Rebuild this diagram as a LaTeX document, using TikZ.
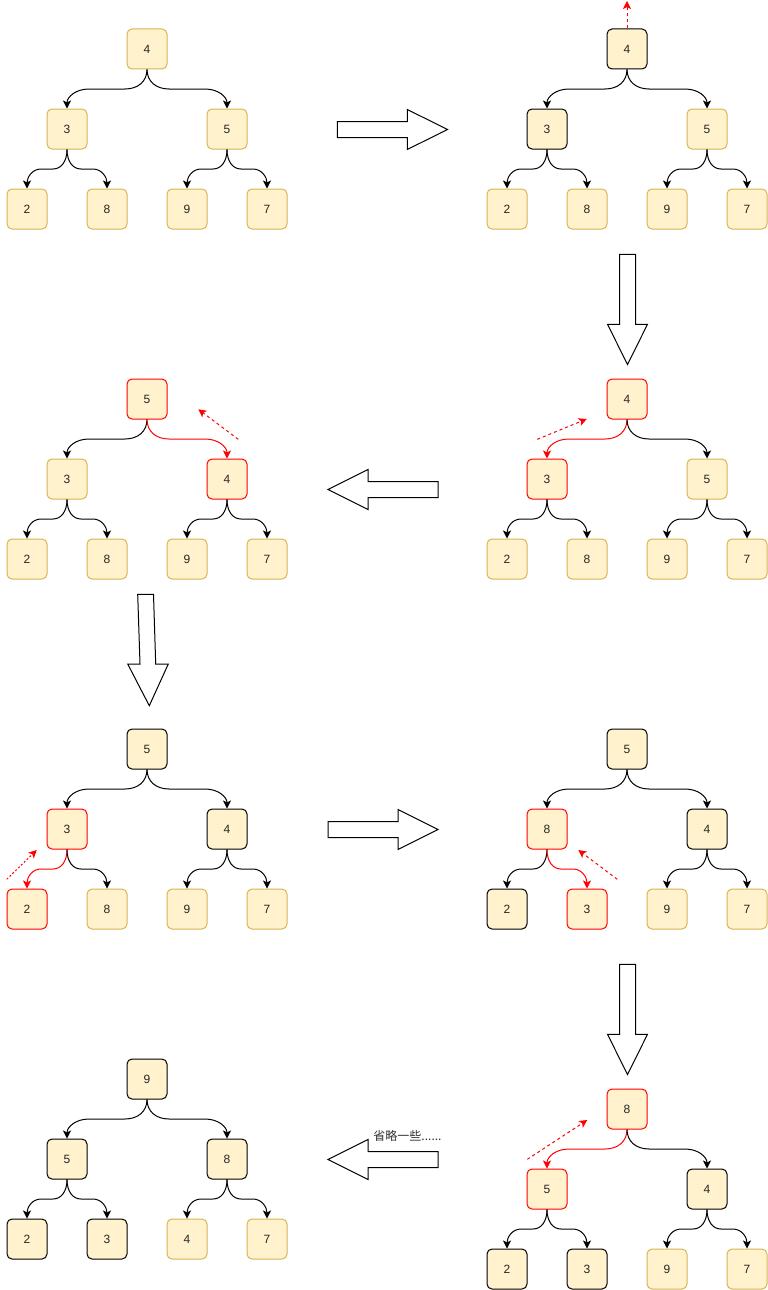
\documentclass[tikz,border=0pt]{standalone}
\usepackage{fontspec}
\setmainfont{Liberation Sans}
\newfontfamily\cjk{Noto Sans CJK SC}
\usetikzlibrary{calc,arrows.meta}
\definecolor{boxfill}{HTML}{FFF2CC}
\definecolor{boxline}{HTML}{D6B656}
\definecolor{hred}{HTML}{FF0000}
\tikzset{
  box/.style={rectangle, rounded corners=5pt, minimum width=40pt, minimum height=40pt,
    inner sep=0pt, fill=boxfill, line width=1pt, text=black!85,
    font=\fontsize{12pt}{14pt}\selectfont},
  lt/.style={box, draw=boxline},
  bk/.style={box, draw=black},
  rd/.style={box, draw=hred},
  curv/.style={to path={let \p1=(\tikztostart), \p2=(\tikztotarget),
      \p3=($(\p1)!0.5!(\p2)$),
      \p4=($(\x1,\y3)!#1!(\x2,\y3)$),
      \p5=($(\x2,\y3)!#1!(\x1,\y3)$) in
      .. controls ($(\p1)!0.6!(\x1,\y3)$) and ($(\p4)!0.6!(\x1,\y3)$) .. (\p4)
      -- (\p5)
      .. controls ($(\p5)!0.6!(\x2,\y3)$) and ($(\p2)!0.6!(\x2,\y3)$) .. (\p2)}},
  tedge/.style={line width=1pt, -{Stealth[length=8pt,width=8pt,inset=2pt]}},
  topedge/.style={tedge, curv=22pt},
  leafedge/.style={tedge, curv=14pt},
  hint/.style={draw=hred, line width=1pt, dash pattern=on 3pt off 3pt,
    -{Stealth[length=8pt,width=8pt,inset=2pt]}},
  hintdot/.style={hint, dash pattern=on 2pt off 2pt},
  blk/.style={draw=black, fill=white, line width=1pt, line join=miter},
}
\newcommand\treeedges[7]{%
  \draw[topedge,draw=#2] (#1r.south) to (#1a.north);
  \draw[topedge,draw=#3] (#1r.south) to (#1b.north);
  \draw[leafedge,draw=#4] (#1a.south) to (#1c.north);
  \draw[leafedge,draw=#5] (#1a.south) to (#1d.north);
  \draw[leafedge,draw=#6] (#1b.south) to (#1e.north);
  \draw[leafedge,draw=#7] (#1b.south) to (#1f.north);
}
\begin{document}
\begin{tikzpicture}[x=1pt,y=-1pt]
\fill[white] (0,0) rectangle (768,1290);
\useasboundingbox (0,0) rectangle (768,1290);

% ---------- tree 1
\begin{scope}[shift={(0,0)}]
\node[lt] (Ar) at (147,49) {4};
\node[lt] (Aa) at (67,129) {3};
\node[lt] (Ab) at (227,129) {5};
\node[lt] (Ac) at (27,209) {2};
\node[lt] (Ad) at (107,209) {8};
\node[lt] (Ae) at (187,209) {9};
\node[lt] (Af) at (267,209) {7};
\end{scope}
\treeedges{A}{black}{black}{black}{black}{black}{black}

% ---------- tree 2
\begin{scope}[shift={(480,0)}]
\node[bk] (Br) at (147,49) {4};
\node[bk] (Ba) at (67,129) {3};
\node[lt] (Bb) at (227,129) {5};
\node[lt] (Bc) at (27,209) {2};
\node[lt] (Bd) at (107,209) {8};
\node[lt] (Be) at (187,209) {9};
\node[lt] (Bf) at (267,209) {7};
\end{scope}
\treeedges{B}{black}{black}{black}{black}{black}{black}
\coordinate (Bup) at (627,1);
\draw[hint] (Br.north) -- (Bup);

% ---------- tree 3
\begin{scope}[shift={(480,350)}]
\node[rd] (Cr) at (147,49) {4};
\node[rd] (Ca) at (67,129) {3};
\node[lt] (Cb) at (227,129) {5};
\node[lt] (Cc) at (27,209) {2};
\node[lt] (Cd) at (107,209) {8};
\node[lt] (Ce) at (187,209) {9};
\node[lt] (Cf) at (267,209) {7};
\end{scope}
\treeedges{C}{hred}{black}{black}{black}{black}{black}
\coordinate (Chs) at (537.3,439.3);
\coordinate (Che) at (586.7,419);
\draw[hint] (Chs) -- (Che);

% ---------- tree 4
\begin{scope}[shift={(0,350)}]
\node[rd] (Dr) at (147,49) {5};
\node[lt] (Da) at (67,129) {3};
\node[rd] (Db) at (227,129) {4};
\node[lt] (Dc) at (27,209) {2};
\node[lt] (Dd) at (107,209) {8};
\node[lt] (De) at (187,209) {9};
\node[lt] (Df) at (267,209) {7};
\end{scope}
\treeedges{D}{black}{hred}{black}{black}{black}{black}
\coordinate (Dhs) at (238.3,439.3);
\coordinate (Dhe) at (198.3,409.3);
\draw[hint] (Dhs) -- (Dhe);

% ---------- tree 5
\begin{scope}[shift={(0,700)}]
\node[bk] (Er) at (147,49) {5};
\node[rd] (Ea) at (67,129) {3};
\node[bk] (Eb) at (227,129) {4};
\node[rd] (Ec) at (27,209) {2};
\node[lt] (Ed) at (107,209) {8};
\node[lt] (Ee) at (187,209) {9};
\node[lt] (Ef) at (267,209) {7};
\end{scope}
\treeedges{E}{black}{black}{hred}{black}{black}{black}
\coordinate (Ehs) at (6.7,879.3);
\coordinate (Ehe) at (36.7,850);
\draw[hintdot] (Ehs) -- (Ehe);

% ---------- tree 6
\begin{scope}[shift={(480,700)}]
\node[bk] (Fr) at (147,49) {5};
\node[rd] (Fa) at (67,129) {8};
\node[bk] (Fb) at (227,129) {4};
\node[bk] (Fc) at (27,209) {2};
\node[rd] (Fd) at (107,209) {3};
\node[lt] (Fe) at (187,209) {9};
\node[lt] (Ff) at (267,209) {7};
\end{scope}
\treeedges{F}{black}{black}{black}{hred}{black}{black}
\coordinate (Fhs) at (617.3,879.3);
\coordinate (Fhe) at (578.3,850);
\draw[hint] (Fhs) -- (Fhe);

% ---------- tree 7
\begin{scope}[shift={(480,1060)}]
\node[rd] (Gr) at (147,49) {8};
\node[rd] (Ga) at (67,129) {5};
\node[bk] (Gb) at (227,129) {4};
\node[bk] (Gc) at (27,209) {2};
\node[bk] (Gd) at (107,209) {3};
\node[lt] (Ge) at (187,209) {9};
\node[lt] (Gf) at (267,209) {7};
\end{scope}
\treeedges{G}{hred}{black}{black}{black}{black}{black}
\coordinate (Ghs) at (527.3,1159.3);
\coordinate (Ghe) at (587.3,1120);
\draw[hint] (Ghs) -- (Ghe);

% ---------- tree 8
\begin{scope}[shift={(0,1030)}]
\node[bk] (Hr) at (147,49) {9};
\node[bk] (Ha) at (67,129) {5};
\node[bk] (Hb) at (227,129) {8};
\node[bk] (Hc) at (27,209) {2};
\node[bk] (Hd) at (107,209) {3};
\node[lt] (He) at (187,209) {4};
\node[lt] (Hf) at (267,209) {7};
\end{scope}
\treeedges{H}{black}{black}{black}{black}{black}{black}

% ---------- block arrows
\draw[blk] (337.3,121.5) -- (407.3,121.5) -- (407.3,109.5) -- (447.5,129.5)
  -- (407.3,149.5) -- (407.3,137.5) -- (337.3,137.5) -- cycle;
\draw[blk] (619.5,254.3) -- (635.5,254.3) -- (635.5,324.3) -- (647.5,324.3)
  -- (627.5,364.5) -- (607.5,324.3) -- (619.5,324.3) -- cycle;
\draw[blk] (438,481.5) -- (368,481.5) -- (368,469.5) -- (328,489.5)
  -- (368,509.5) -- (368,497.5) -- (438,497.5) -- cycle;
\draw[blk] (137.7,594.3) -- (153.5,594.3) -- (155.7,664) -- (168.3,664)
  -- (149.3,705.7) -- (127.7,664) -- (140,664) -- cycle;
\draw[blk] (328,821.5) -- (398,821.5) -- (398,809.5) -- (438,829.5)
  -- (398,849.5) -- (398,837.5) -- (328,837.5) -- cycle;
\draw[blk] (619.5,964.3) -- (635.5,964.3) -- (635.5,1034.3) -- (647.5,1034.3)
  -- (627.5,1074.5) -- (607.5,1034.3) -- (619.5,1034.3) -- cycle;
\draw[blk] (438,1151.5) -- (368,1151.5) -- (368,1139.5) -- (328,1159.5)
  -- (368,1179.5) -- (368,1167.5) -- (438,1167.5) -- cycle;
\node[inner sep=0pt, text=black!80, font=\cjk\fontsize{12pt}{14pt}\selectfont]
  (skip) at (407.5,1136) {省略一些......};
\end{tikzpicture}
\end{document}
